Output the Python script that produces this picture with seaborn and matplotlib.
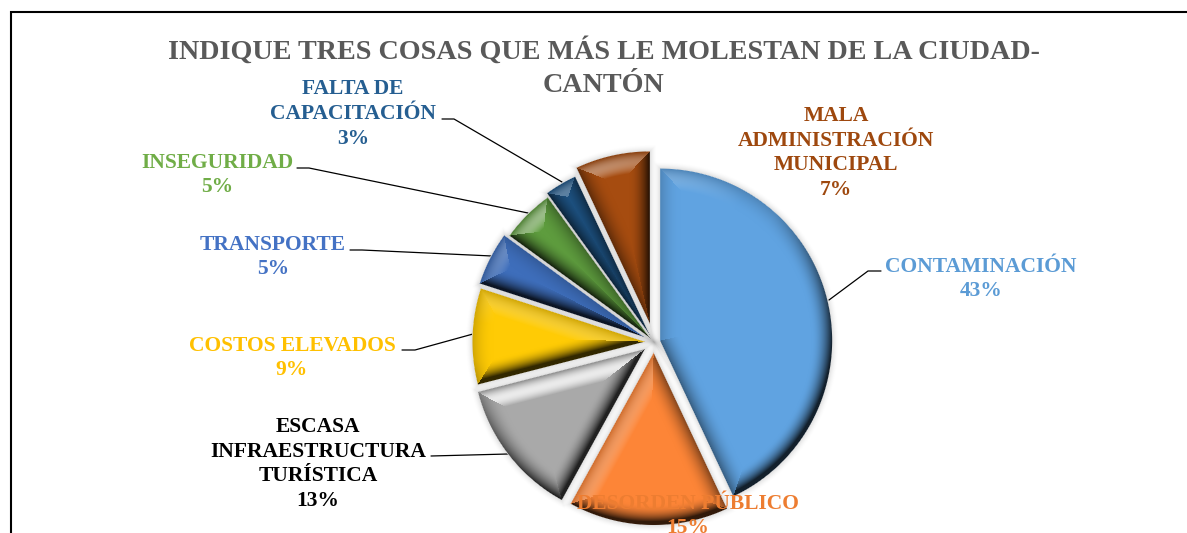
import numpy as np
import matplotlib
matplotlib.use("Agg")
import matplotlib.pyplot as plt
import seaborn as sns

# ========== DATOS ==========
categorias = ["CONTAMINACIÓN", "DESORDEN PÚBLICO", "ESCASA\nINFRAESTRUCTURA\nTURÍSTICA",
              "COSTOS ELEVADOS", "TRANSPORTE", "INSEGURIDAD", "FALTA DE\nCAPACITACIÓN",
              "MALA\nADMINISTRACIÓN\nMUNICIPAL"]
valores = [43, 15, 13, 9, 5, 5, 3, 7]
titulo = "INDIQUE TRES COSAS QUE MÁS LE MOLESTAN DE LA CIUDAD-\nCANTÓN"

# ========== ESTILO ==========
colores_texto = ["#5B9BD5", "#ED7D31", "#000000", "#FFC000", "#4472C4", "#70AD47", "#255E91", "#9E480E"]
colores_cuna = ["#60A3E1", "#FD8537", "#A9A9A9", "#FFCB05", "#3E6EBB", "#5E9C3E", "#1E5485", "#A64C10"]
brillo = [0.25, 0.35, 0.95, 0.5, 0.35, 0.45, 0.3, 0.4]
separacion = [6.3, 11, 11.8, 9.5, 11.9, 7.4, 11.2, 19]
pos_texto = [(981, 279), (688, 516), (318, 464), (292, 358), (273, 257), (217, 175), (353, 114), (836, 153)]
guias = [[(881, 271), (868, 271), (829, 300)],
         None,
         [(431, 456), (508, 454)],
         [(402, 350), (415, 350), (473, 334)],
         [(350, 250), (362, 250), (492, 256)],
         [(297, 168), (309, 168), (528, 213)],
         [(442, 119), (454, 119), (562, 182)],
         None]

sns.set_theme(style="white")
plt.rcParams["font.family"] = ["Liberation Serif", "DejaVu Serif"]
paleta = sns.color_palette(colores_cuna)

W, H = 1187, 533
fig = plt.figure(figsize=(W / 100, H / 100), dpi=100, facecolor="white")
ax = fig.add_axes([0, 0, 1, 1])

# Con el eje y invertido las coordenadas coinciden con los pixeles
cunas, _ = ax.pie(valores, explode=separacion, colors=paleta, center=(654, 342), radius=172,
                  startangle=-90, counterclock=True)
for c in cunas:
    c.set_zorder(2)


# ========== BISEL Y SOMBRA ==========
def distancias(cuna, px, py):
    cx, cy = cuna.center
    t1, t2 = np.deg2rad(cuna.theta1), np.deg2rad(cuna.theta2)
    dx, dy = px - cx, py - cy
    rho = np.hypot(dx, dy) + 1e-6
    d_arco = cuna.r - rho
    d1 = -dx * np.sin(t1) + dy * np.cos(t1)
    d2 = dx * np.sin(t2) - dy * np.cos(t2)
    d = np.stack([d_arco, d1, d2])
    nx = np.stack([dx / rho, np.full_like(dx, np.sin(t1)), np.full_like(dx, -np.sin(t2))])
    ny = np.stack([dy / rho, np.full_like(dx, -np.cos(t1)), np.full_like(dx, np.cos(t2))])
    return d, nx, ny


px, py = np.meshgrid(np.arange(W) + 0.5, np.arange(H) + 0.5)
capa = np.zeros((H, W, 3))
alfa = np.zeros((H, W))
ancho = 21.0
luz = np.array([-0.45, -0.89])

# sombra suave alrededor de cada cuna
for cuna in cunas:
    d, nx, ny = distancias(cuna, px, py)
    dmin = d.min(axis=0)
    sombra = np.where((dmin < 0) & (dmin > -8), 0.13 * (1 + dmin / 8) ** 2, 0)
    alfa = alfa + sombra * (1 - alfa)

for cuna, color, b in zip(cunas, paleta, brillo):
    d, nx, ny = distancias(cuna, px, py)
    k = d.argmin(axis=0)
    dmin = np.take_along_axis(d, k[None], axis=0)[0]
    nxx = np.take_along_axis(nx, k[None], axis=0)[0]
    nyy = np.take_along_axis(ny, k[None], axis=0)[0]
    s = nxx * luz[0] + nyy * luz[1]
    t = np.clip(dmin / ancho, 0, 1)
    claro = np.clip(s - 0.55, 0, 1) / 0.45 * np.sin(np.pi * t ** 0.9) * b
    oscuro = np.clip(0.35 - s, 0, 1.35) / 1.35 * (1 - t) ** 2.0 * 1.05 + 0.18 * (1 - t) ** 2
    oscuro = np.clip(oscuro, 0, 0.8)
    rgb = np.ones((H, W, 3)) * np.array(color)
    rgb = rgb + (1 - rgb) * claro[..., None]
    rgb = rgb * (1 - oscuro[..., None])
    cob = np.clip(dmin + 0.5, 0, 1)
    nueva = alfa * (1 - cob) + cob
    mezcla = (cob / np.maximum(nueva, 1e-6))[..., None]
    capa = capa * (1 - mezcla) + rgb * mezcla
    alfa = nueva

ax.imshow(np.dstack([capa, alfa]), extent=(0, W, H, 0), zorder=3, interpolation="nearest", aspect="auto")

# ========== TEXTOS Y GUIAS ==========
for guia in guias:
    if guia is not None:
        xs, ys = zip(*guia)
        ax.plot(xs, ys, color="black", lw=0.9, zorder=1)

for nombre, valor, color, (x, y) in zip(categorias, valores, colores_texto, pos_texto):
    ax.text(x, y, f"{nombre}\n{valor}%", color=color, fontsize=15.5, fontweight="bold",
            ha="center", va="center", linespacing=1.3, zorder=5)

ax.text(604, 67.5, titulo, color="#595959", fontsize=20.25, fontweight="bold", ha="center", va="center",
        linespacing=1.42, zorder=5)

# Marco recortado de la imagen original
ax.plot([11, 11, W], [H, 12, 12], color="black", lw=1.5, zorder=6, solid_joinstyle="miter")

ax.set_xlim(0, W)
ax.set_ylim(H, 0)
ax.axis("off")
fig.savefig("out.png", dpi=100)
